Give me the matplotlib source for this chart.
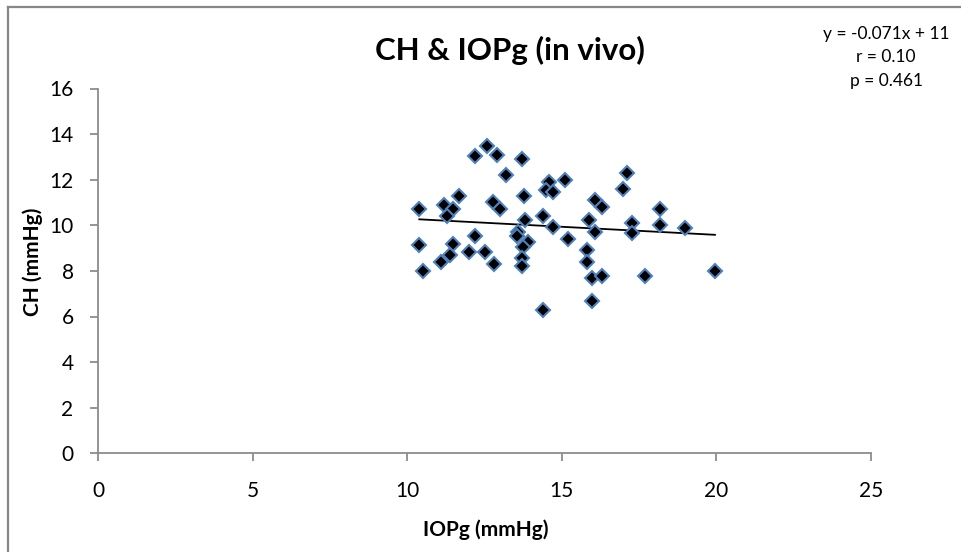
import matplotlib
matplotlib.use("Agg")
import matplotlib.pyplot as plt
from matplotlib.lines import Line2D
import numpy as np

plt.rcParams['font.family'] = ['Lato', 'DejaVu Sans']

# Data
iopg = [10.39, 10.39, 10.50, 11.19, 11.49, 11.29, 11.68, 11.49, 11.38, 11.08,
        12.19, 12.00, 12.50, 12.81, 12.78, 13.00, 12.19, 12.57, 12.89, 13.19,
        13.70, 13.78, 13.81, 13.59, 13.55, 13.92, 13.75, 13.70, 13.70, 14.60,
        14.48, 14.71, 15.09, 14.40, 14.71, 15.20, 16.08, 15.88, 16.08, 15.81,
        15.81, 15.99, 15.99, 17.10, 16.99, 16.30, 17.29, 17.29, 18.18, 18.18,
        19.00, 16.30, 17.69, 19.96, 14.38]
ch = [10.70, 9.13, 8.00, 10.89, 10.73, 10.41, 11.30, 9.20, 8.69, 8.41,
      9.53, 8.81, 8.81, 8.29, 11.01, 10.70, 13.02, 13.50, 13.09, 12.20,
      12.90, 11.30, 10.22, 9.70, 9.54, 9.28, 9.06, 8.55, 8.23, 11.92,
      11.57, 11.45, 12.00, 10.41, 9.92, 9.42, 11.10, 10.22, 9.70, 8.92,
      8.38, 7.68, 6.69, 12.28, 11.59, 10.79, 10.11, 9.68, 10.70, 10.00,
      9.88, 7.79, 7.79, 8.00, 6.28]

slope = -0.071
intercept = 11.0

title = "CH & IOPg (in vivo)"
xlabel = "IOPg (mmHg)"
ylabel = "CH (mmHg)"
annot = "y = -0.071x + 11\nr = 0.10\np = 0.461"
xticks = [0, 5, 10, 15, 20, 25]
yticks = [0, 2, 4, 6, 8, 10, 12, 14, 16]

W, H = 961, 552
fig = plt.figure(figsize=(W / 100, H / 100), dpi=100)
fig.patch.set_facecolor('white')

ax = fig.add_axes([98.3 / W, 1 - 453.3 / H, (870.7 - 98.3) / W, (453.3 - 88.5) / H])
ax.set_xlim(0, 25)
ax.set_ylim(0, 16)
ax.set_xticks(xticks)
ax.set_yticks(yticks)

gray = '#8c8c8c'
for s in ['top', 'right']:
    ax.spines[s].set_visible(False)
for s in ['left', 'bottom']:
    ax.spines[s].set_color(gray)
    ax.spines[s].set_linewidth(1.3)
ax.tick_params(axis='both', direction='out', length=5.8, width=1.3, color=gray,
               labelsize=15, labelcolor='black')
ax.tick_params(axis='y', pad=12)
ax.tick_params(axis='x', pad=14)

ax.plot(iopg, ch, linestyle='none', marker='D', markersize=7.4,
        markerfacecolor='black', markeredgecolor='#4F81BD', markeredgewidth=1.5,
        zorder=3)

xs = np.array([min(iopg), max(iopg)])
ax.plot(xs, slope * xs + intercept, color='black', linewidth=1.3, zorder=2)

fig.text(510 / W, 1 - 50 / H, title, ha='center', va='center',
         fontsize=22.5, fontweight='bold')
fig.text(486 / W, 1 - 530 / H, xlabel, ha='center', va='center',
         fontsize=15, fontweight='bold')
fig.text(33 / W, 1 - 262 / H, ylabel, ha='center', va='center',
         fontsize=15, fontweight='bold', rotation=90)
fig.text(886 / W, 1 - 57.5 / H, annot, ha='center', va='center',
         fontsize=12.5, linespacing=1.6)

# chart-area border (top and left visible)
fig.add_artist(Line2D([8.3 / W, 8.3 / W], [0, 1 - 7.3 / H], color='#878787',
                      linewidth=1.6, transform=fig.transFigure))
fig.add_artist(Line2D([8.3 / W, 1], [1 - 7.3 / H, 1 - 7.3 / H], color='#878787',
                      linewidth=1.6, transform=fig.transFigure))

fig.savefig('out.png', dpi=100)
